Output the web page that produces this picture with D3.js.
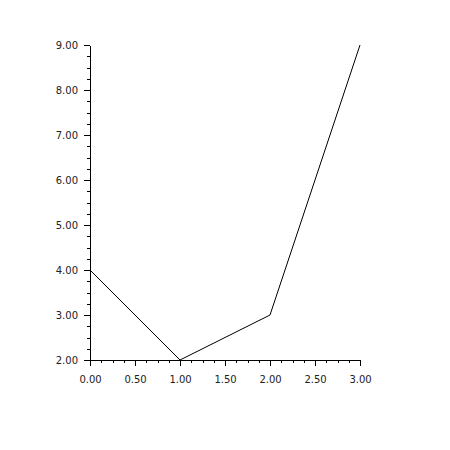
<!DOCTYPE html>
<html>
<head>
<meta charset="utf-8">
<script src="https://cdn.jsdelivr.net/npm/d3@7"></script>
<style>
    body { margin: 0; background: #fff; }
    .axis text { font-family: "DejaVu Sans", sans-serif; font-size: 10px; fill: #222; }
    .axis path, .axis line { stroke: #000; shape-rendering: crispEdges; }
</style>
</head>
<body>
<div id="chart"></div>
<script>
var xValues = [0, 1, 2, 3];
var yValues = [4, 2, 3, 9];
var xTicks = [0, 0.5, 1, 1.5, 2, 2.5, 3];
var yTicks = [2, 3, 4, 5, 6, 7, 8, 9];

var margin = { top: 45, right: 90, bottom: 90, left: 90 };
var width = 450 - margin.left - margin.right;
var height = 450 - margin.top - margin.bottom;

var svg = d3.select('#chart')
    .append('svg')
    .attr('width', 450)
    .attr('height', 450)
    .append('g')
    .attr('transform', 'translate(' + margin.left + ',' + margin.top + ')');

var x = d3.scaleLinear().domain([0, 3]).range([0, width]);
var y = d3.scaleLinear().domain([2, 9]).range([height, 0]);

// minor ticks first, then major axes on top
var xMinor = d3.range(0, 3.0001, 0.125);
var yMinor = d3.range(2, 9.0001, 0.25);

svg.append('g')
    .attr('class', 'axis minor')
    .attr('transform', 'translate(0,' + height + ')')
    .call(d3.axisBottom(x).tickValues(xMinor).tickSize(3).tickFormat(''))
    .select('.domain').remove();

svg.append('g')
    .attr('class', 'axis minor')
    .call(d3.axisLeft(y).tickValues(yMinor).tickSize(3).tickFormat(''))
    .select('.domain').remove();

svg.append('g')
    .attr('class', 'x axis')
    .attr('transform', 'translate(0,' + height + ')')
    .call(d3.axisBottom(x).tickValues(xTicks).tickSize(6).tickSizeOuter(0).tickPadding(10).tickFormat(d3.format('.2f')));

svg.append('g')
    .attr('class', 'y axis')
    .call(d3.axisLeft(y).tickValues(yTicks).tickSize(6).tickSizeOuter(0).tickPadding(6).tickFormat(d3.format('.2f')));

var line = d3.line()
    .x(function (d, i) { return x(xValues[i]); })
    .y(function (d) { return y(d); });

svg.append('path')
    .datum(yValues)
    .attr('fill', 'none')
    .attr('stroke', '#000')
    .attr('stroke-width', 1)
    .attr('d', line);
</script>
</body>
</html>
